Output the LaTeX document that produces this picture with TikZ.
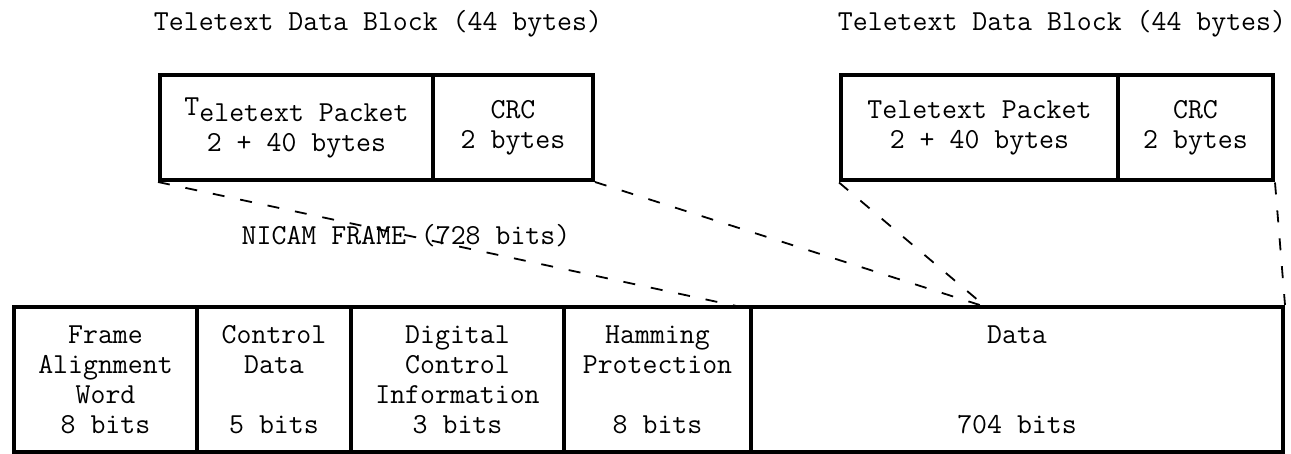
\documentclass[tikz,border=0pt]{standalone}
\usetikzlibrary{positioning}

\begin{document}
\begin{tikzpicture}[
  x=1pt, y=-1pt,
  font=\ttfamily\fontsize{29}{30}\selectfont,
  topcell/.style={draw, line width=4pt, inner sep=0pt, align=center, minimum height=105pt},
  framecell/.style={draw, line width=4pt, inner sep=0pt, align=center, minimum height=145pt},
  link/.style={line width=1.8pt, dash pattern=on 12pt off 16pt}
]
\useasboundingbox (0,0) rectangle (1291,454);
% block titles
\node (titleL) at (378,24) {Teletext Data Block (44 bytes)};
\node (titleR) at (1062,24) {Teletext Data Block (44 bytes)};
% teletext data blocks
\node[topcell, minimum width=273pt] (tpL) at (296.5,127.5) {\raisebox{6pt}{T}eletext Packet\\2 + 40 bytes};
\node[topcell, minimum width=160pt] (crcL) at (513,127.5) {CRC\\2 bytes};
\node[topcell, minimum width=277pt] (tpR) at (979.5,128) {Teletext Packet\\2 + 40 bytes};
\node[topcell, minimum width=155pt] (crcR) at (1195.5,128) {CRC\\2 bytes};
\node (nicam) at (406,236) {NICAM FRAME (728 bits)};
% the frame fields
\foreach \i/\xa/\xb/\txt in {0/14/197/{Frame\\Alignment\\Word\\8 bits},
                             1/197/351/{Control\\Data\\\mbox{}\\5 bits},
                             2/351/564/{Digital\\Control\\Information\\3 bits},
                             3/564/751/{Hamming\\Protection\\\mbox{}\\8 bits},
                             4/751/1283/{Data\\\mbox{}\\\mbox{}\\704 bits}} {
  \node[framecell, minimum width={(\xb-\xa)*1pt}] (f\i) at ({(\xa+\xb)/2},379.5) {\txt};
}
\coordinate (hm) at (741,307);
\coordinate (tip) at (986,307);
\draw[link] (tpL.south west) -- (hm);
\draw[link] (crcL.south east) -- (tip);
\draw[link] (tpR.south west) -- (tip);
\draw[link] (crcR.south east) -- (f4.north east);
\end{tikzpicture}
\end{document}
